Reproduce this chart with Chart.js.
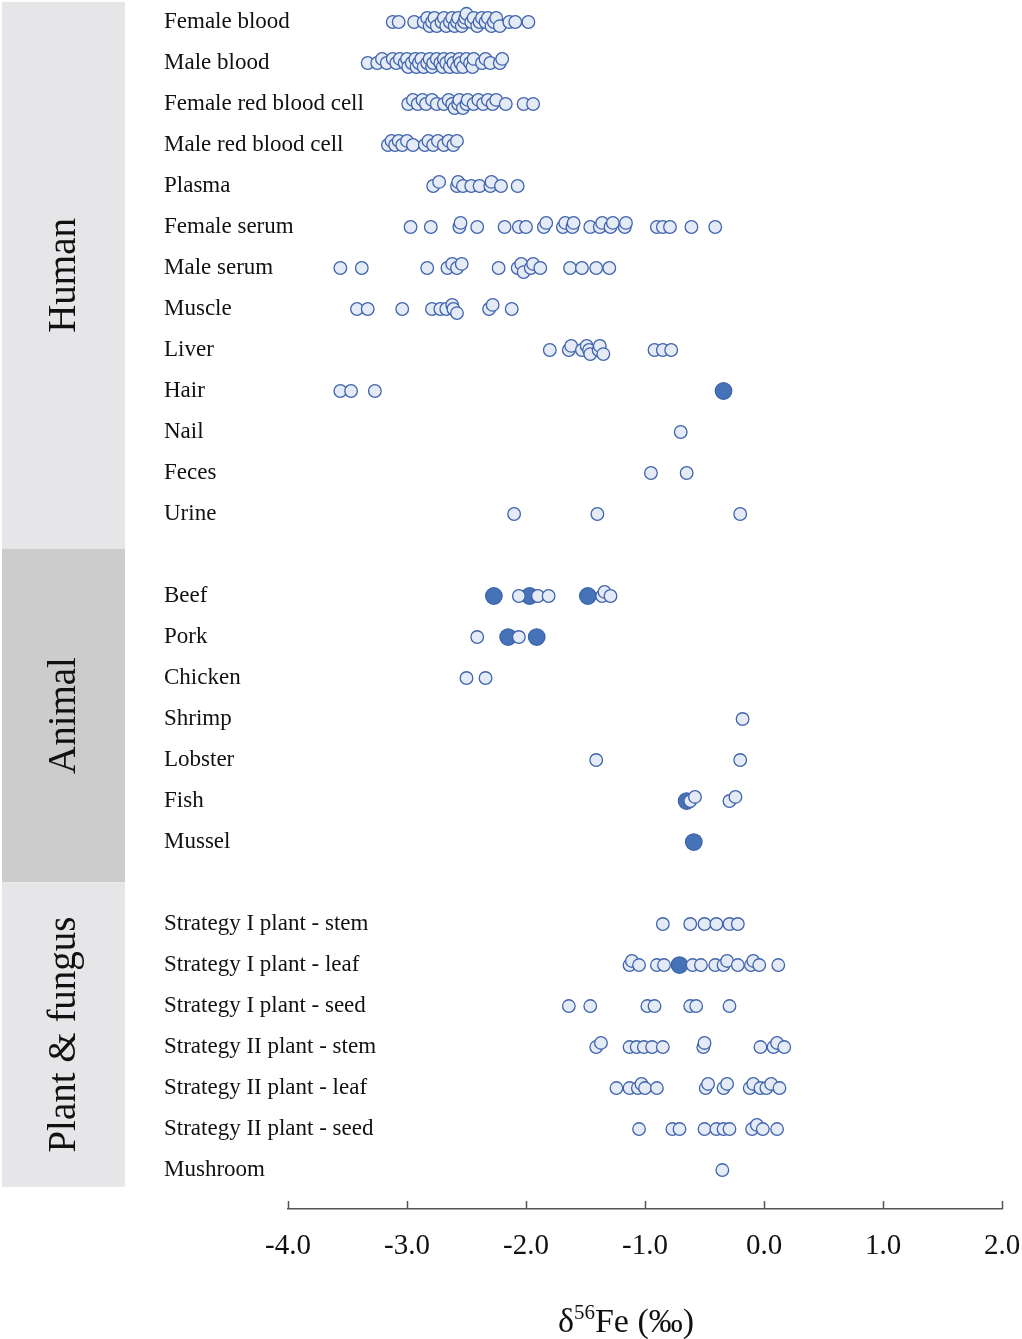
<!DOCTYPE html>
<html>
<head>
<meta charset="utf-8">
<script src="https://cdn.jsdelivr.net/npm/chart.js@4.4.3/dist/chart.umd.min.js"></script>
<style>
  html, body { margin: 0; padding: 0; background: #fff; }
  #wrap { width: 1022px; height: 1339px; position: relative; }
</style>
</head>
<body>
<div id="wrap"><canvas id="chart"></canvas></div>
<script>
// row labels, top to bottom ('' = spacer row between groups)
const rowLabels = [
  "Female blood", "Male blood", "Female red blood cell", "Male red blood cell",
  "Plasma", "Female serum", "Male serum", "Muscle", "Liver", "Hair", "Nail",
  "Feces", "Urine", "",
  "Beef", "Pork", "Chicken", "Shrimp", "Lobster", "Fish", "Mussel", "",
  "Strategy I plant - stem", "Strategy I plant - leaf", "Strategy I plant - seed",
  "Strategy II plant - stem", "Strategy II plant - leaf", "Strategy II plant - seed",
  "Mushroom"
];

// group bands: name, first row edge, last row edge (in row units)
const groupNames = ["Human", "Animal", "Plant & fungus"];
const groupStart = [-0.49, 12.85, 20.98];
const groupEnd = [12.85, 20.98, 28.41];
const groupColors = ["#e6e5e7", "#cdcccd", "#e6e5e7"];

// δ56Fe values (‰), individual samples (open circles), one list per row
const sampleValues = [
  [-3.12, -3.07, -2.94, -2.86, -2.83, -2.81, -2.79, -2.77, -2.75, -2.71, -2.69, -2.67, -2.64, -2.62,
   -2.60, -2.58, -2.57, -2.54, -2.52, -2.51, -2.50, -2.46, -2.44, -2.41, -2.39, -2.37, -2.34, -2.32,
   -2.29, -2.27, -2.25, -2.22, -2.14, -2.09, -1.98],
  [-3.33, -3.25, -3.21, -3.17, -3.12, -3.09, -3.06, -3.02, -3.00, -2.99, -2.96, -2.93, -2.92, -2.90,
   -2.88, -2.86, -2.83, -2.81, -2.79, -2.78, -2.75, -2.72, -2.70, -2.69, -2.67, -2.64, -2.63, -2.61,
   -2.58, -2.56, -2.55, -2.53, -2.50, -2.47, -2.45, -2.44, -2.37, -2.34, -2.30, -2.22, -2.20],
  [-2.99, -2.95, -2.91, -2.87, -2.84, -2.79, -2.75, -2.69, -2.65, -2.62, -2.60, -2.57, -2.56, -2.53,
   -2.50, -2.49, -2.44, -2.40, -2.36, -2.32, -2.28, -2.25, -2.17, -2.02, -1.94],
  [-3.16, -3.13, -3.10, -3.07, -3.04, -3.00, -2.95, -2.85, -2.82, -2.78, -2.74, -2.69, -2.65, -2.61, -2.58],
  [-2.78, -2.73, -2.58, -2.57, -2.53, -2.46, -2.39, -2.30, -2.29, -2.21, -2.07],
  [-2.97, -2.80, -2.56, -2.55, -2.41, -2.18, -2.06, -2.00, -1.85, -1.83, -1.69, -1.67, -1.61, -1.60,
   -1.46, -1.38, -1.36, -1.29, -1.27, -1.17, -1.16, -0.90, -0.85, -0.79, -0.61, -0.41],
  [-3.56, -3.38, -2.83, -2.66, -2.62, -2.58, -2.54, -2.23, -2.07, -2.04, -2.02, -1.96, -1.94, -1.88,
   -1.63, -1.53, -1.41, -1.30],
  [-3.42, -3.33, -3.04, -2.79, -2.72, -2.67, -2.62, -2.61, -2.58, -2.31, -2.28, -2.12],
  [-1.80, -1.64, -1.62, -1.53, -1.49, -1.47, -1.46, -1.39, -1.38, -1.35, -0.92, -0.85, -0.78],
  [-3.56, -3.47, -3.27],
  [-0.70],
  [-0.95, -0.65],
  [-2.10, -1.40, -0.20],
  [],
  [-2.06, -1.90, -1.81, -1.36, -1.34, -1.29],
  [-2.41, -2.06],
  [-2.50, -2.34],
  [-0.18],
  [-1.41, -0.20],
  [-0.62, -0.58, -0.29, -0.24],
  [],
  [],
  [-0.85, -0.62, -0.50, -0.40, -0.29, -0.22],
  [-1.13, -1.11, -1.05, -0.90, -0.84, -0.60, -0.53, -0.41, -0.34, -0.31, -0.22, -0.11, -0.09, -0.04, 0.12],
  [-1.64, -1.46, -0.98, -0.92, -0.62, -0.57, -0.29],
  [-1.41, -1.37, -1.13, -1.07, -1.01, -0.94, -0.85, -0.51, -0.50, -0.03, 0.08, 0.11, 0.17],
  [-1.24, -1.13, -1.06, -1.03, -1.00, -0.90, -0.49, -0.47, -0.34, -0.31, -0.12, -0.09, -0.03, 0.02, 0.06, 0.13],
  [-1.05, -0.77, -0.71, -0.50, -0.40, -0.34, -0.29, -0.10, -0.06, -0.01, 0.11],
  [-0.35]
];

// highlighted values (filled circles): row label and value
const highlightRows = ["Hair", "Beef", "Beef", "Beef", "Pork", "Pork", "Fish", "Mussel", "Strategy I plant - leaf"];
const highlightValues = [-0.34, -2.27, -1.97, -1.48, -2.15, -1.91, -0.65, -0.59, -0.71];

const xTicks = [-4, -3, -2, -1, 0, 1, 2];

const SERIF = "'Liberation Serif', 'DejaVu Serif', serif";

// simple beeswarm dodge: nudge overlapping points a little up/down
function dodgeRow(values, row) {
  const slots = [0, -0.1, 0.1, -0.2, 0.2];
  const placed = [];
  return values.slice().sort((a, b) => a - b).map(v => {
    let slot = slots.find(s => !placed.some(p => p.s === s && Math.abs(p.v - v) < 0.05));
    if (slot === undefined) slot = 0;
    placed.push({ v, s: slot });
    return { x: v, y: row + slot };
  });
}

const openPoints = sampleValues.flatMap((vals, row) => dodgeRow(vals, row));
const filledPoints = highlightValues.map((v, i) => ({ x: v, y: rowLabels.indexOf(highlightRows[i]) }));

const decorPlugin = {
  id: "decor",
  beforeDraw(chart) {
    const { ctx } = chart;
    const y = chart.scales.y;
    ctx.save();
    groupNames.forEach((name, i) => {
      const top = y.getPixelForValue(groupStart[i]);
      const bottom = y.getPixelForValue(groupEnd[i]);
      ctx.fillStyle = groupColors[i];
      ctx.fillRect(2, top, 123, bottom - top);
      ctx.save();
      ctx.translate(65, (top + bottom) / 2);
      ctx.rotate(-Math.PI / 2);
      ctx.fillStyle = "#111";
      ctx.font = "39px " + SERIF;
      ctx.textAlign = "center";
      ctx.textBaseline = "middle";
      ctx.fillText(name, 0, 0);
      ctx.restore();
    });
    // row labels, left aligned at the y scale's left edge
    ctx.fillStyle = "#111";
    ctx.font = "23px " + SERIF;
    ctx.textAlign = "left";
    ctx.textBaseline = "middle";
    rowLabels.forEach((label, i) => {
      if (label) ctx.fillText(label, y.left, y.getPixelForValue(i));
    });
    ctx.restore();
  },
  afterDraw(chart) {
    const { ctx, chartArea } = chart;
    const x = chart.scales.x;
    ctx.save();
    // inward tick marks and tick labels
    ctx.strokeStyle = "#555";
    ctx.lineWidth = 1.5;
    ctx.fillStyle = "#111";
    ctx.font = "29px " + SERIF;
    ctx.textAlign = "center";
    ctx.textBaseline = "middle";
    xTicks.forEach(v => {
      const px = x.getPixelForValue(v);
      const lx = Math.round(px) + 0.5;
      ctx.beginPath();
      ctx.moveTo(lx, chartArea.bottom);
      ctx.lineTo(lx, chartArea.bottom - 8);
      ctx.stroke();
      ctx.fillText(v.toFixed(1), px, chartArea.bottom + 37);
    });
    // axis title with superscript
    ctx.textAlign = "left";
    ctx.textBaseline = "alphabetic";
    const big = "34px " + SERIF, small = "21px " + SERIF;
    const parts = [["δ", big, 0], ["56", small, -13], ["Fe (‰)", big, 0]];
    let total = 0;
    parts.forEach(p => { ctx.font = p[1]; total += ctx.measureText(p[0]).width; });
    let cx = 626 - total / 2;
    const base = 1332;
    parts.forEach(p => {
      ctx.font = p[1];
      ctx.fillText(p[0], cx, base + p[2]);
      cx += ctx.measureText(p[0]).width;
    });
    ctx.restore();
  }
};

new Chart(document.getElementById("chart"), {
  type: "scatter",
  data: {
    datasets: [
      {
        label: "Samples",
        data: openPoints,
        pointRadius: 6.3,
        pointBackgroundColor: "#e4eaf6",
        pointBorderColor: "#3f63ad",
        pointBorderWidth: 1.3
      },
      {
        label: "Highlighted",
        data: filledPoints,
        pointRadius: 8.3,
        pointBackgroundColor: "#4672b8",
        pointBorderColor: "#3a62a8",
        pointBorderWidth: 1.2
      }
    ]
  },
  options: {
    responsive: true,
    maintainAspectRatio: false,
    animation: false,
    layout: { autoPadding: false, padding: { left: 164, right: 20, top: 1.5, bottom: 0 } },
    plugins: { legend: { display: false }, tooltip: { enabled: false } },
    scales: {
      x: {
        type: "linear",
        min: -4,
        max: 2,
        afterBuildTicks: s => { s.ticks = xTicks.map(v => ({ value: v })); },
        afterFit: s => { s.height = 130; },
        grid: { display: false, drawTicks: false },
        border: { display: true, color: "#555", width: 1.5 },
        ticks: { display: false }
      },
      y: {
        type: "linear",
        reverse: true,
        min: -0.5,
        max: 28.95,
        afterBuildTicks: s => { s.ticks = rowLabels.map((_, i) => ({ value: i })); },
        afterFit: s => { s.width = 124; },
        grid: { display: false, drawTicks: false },
        border: { display: false },
        ticks: { display: false }
      }
    }
  },
  plugins: [decorPlugin]
});
</script>
</body>
</html>
